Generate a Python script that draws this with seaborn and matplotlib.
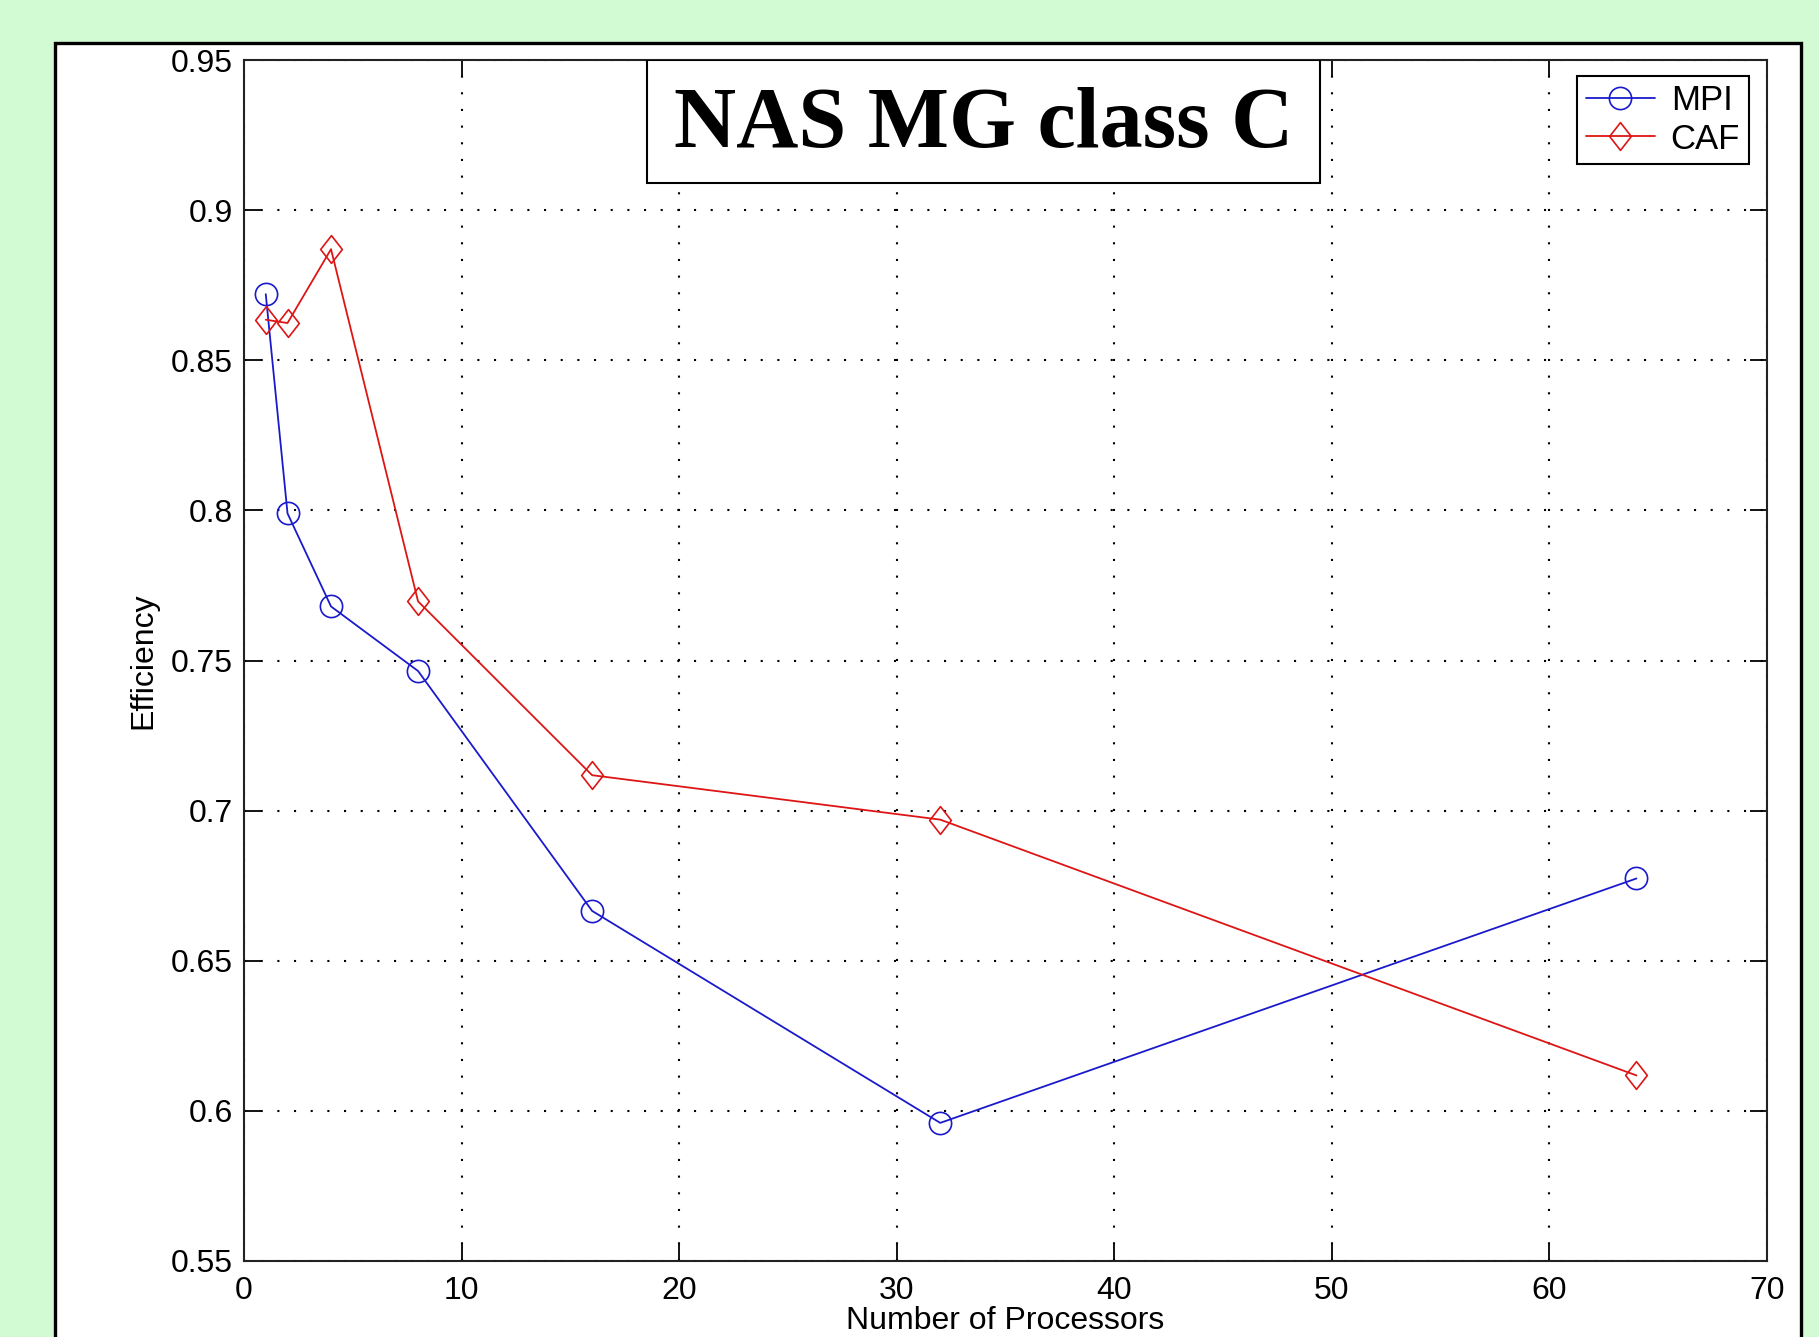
import matplotlib
matplotlib.use("Agg")
import matplotlib.pyplot as plt
from matplotlib.patches import Rectangle
from matplotlib.path import Path
import seaborn as sns

# ---- data ----
processors = [1, 2, 4, 8, 16, 32, 64]
mpi_eff = [0.872, 0.799, 0.768, 0.7465, 0.6666, 0.596, 0.6774]
caf_eff = [0.8635, 0.8624, 0.887, 0.7697, 0.7118, 0.697, 0.6118]
series_names = ["MPI", "CAF"]
title_text = "NAS MG class C"
x_ticks = [0, 10, 20, 30, 40, 50, 60, 70]
y_ticks = [0.55, 0.6, 0.65, 0.7, 0.75, 0.8, 0.85, 0.9, 0.95]
y_tick_labels = ["0.55", "0.6", "0.65", "0.7", "0.75", "0.8", "0.85", "0.9", "0.95"]

sns.set_theme(style="white")
plt.rcParams['font.family'] = ['Liberation Sans', 'DejaVu Sans']
plt.rcParams['text.color'] = 'black'

W, H = 1819, 1337
fig = plt.figure(figsize=(W / 100, H / 100), dpi=100)
fig.patch.set_facecolor("#d3fbd3")

# white panel with black frame
fig.add_artist(Rectangle((55 / W, -0.05), (1801 - 55) / W, 1.05 - 43 / H,
                         transform=fig.transFigure, facecolor="white",
                         edgecolor="black", linewidth=2.4, zorder=0))

ax = fig.add_axes([244 / W, 1 - 1261 / H, (1767 - 244) / W, (1261 - 60) / H])
ax.set_facecolor("white")
ax.set_zorder(1)

# MATLAB-like diamond (slightly taller than wide)
diamond = Path([(0, 1), (0.78, 0), (0, -1), (-0.78, 0), (0, 1)],
               [Path.MOVETO, Path.LINETO, Path.LINETO, Path.LINETO, Path.CLOSEPOLY])

blue = "#1a1acc"
red = "#dd1515"
sns.lineplot(x=processors, y=mpi_eff, ax=ax, color=blue, marker="o",
             markersize=16, markerfacecolor="none", markeredgecolor=blue,
             markeredgewidth=1.2, linewidth=1.3, label=series_names[0])
sns.lineplot(x=processors, y=caf_eff, ax=ax, color=red, marker=diamond,
             markersize=20, markerfacecolor="none", markeredgecolor=red,
             markeredgewidth=1.2, linewidth=1.3, label=series_names[1])

ax.set_xlim(0, 70)
ax.set_ylim(0.55, 0.95)
ax.set_xticks(x_ticks)
ax.set_yticks(y_ticks)
ax.set_xticklabels([str(v) for v in x_ticks])
ax.set_yticklabels(y_tick_labels)

ax.grid(True, color="black", linestyle=(0, (1, 7)), linewidth=1.5)
ax.tick_params(axis="both", direction="in", length=12, width=1.3, colors="black",
               labelcolor="black", labelsize=23, top=True, right=True, bottom=True, left=True)
ax.tick_params(axis="x", pad=11)
ax.tick_params(axis="y", pad=8)
for s in ax.spines.values():
    s.set_visible(True)
    s.set_color("#222222")
    s.set_linewidth(1.5)

ax.set_xlabel("Number of Processors", fontsize=23, labelpad=0, color="black")
ax.set_ylabel("Efficiency", fontsize=23, labelpad=9, color="black")

leg = ax.legend(loc="upper right", bbox_to_anchor=(0.988, 0.987), borderaxespad=0,
                fontsize=25, handlelength=2.0, handletextpad=0.45, labelspacing=0.15,
                borderpad=0.25, frameon=True, fancybox=False, framealpha=1)
leg.get_frame().set_edgecolor("black")
leg.get_frame().set_linewidth(1.5)
for t in leg.get_texts():
    t.set_color("black")

# title box
ax.add_patch(Rectangle(((647 - 244) / (1767 - 244), (1261 - 183) / (1261 - 60)),
                       (1320 - 647) / (1767 - 244), (183 - 60) / (1261 - 60),
                       transform=ax.transAxes, facecolor="white", edgecolor="black",
                       linewidth=1.5, zorder=5))
ax.text(((647 + 1320) / 2 - 244) / (1767 - 244), (1261 - 127) / (1261 - 60), title_text,
        transform=ax.transAxes, ha="center", va="center", fontsize=62, color="black",
        fontweight="bold", family=["Liberation Serif", "DejaVu Serif"], zorder=6)

fig.savefig("out.png", dpi=100, facecolor=fig.get_facecolor())
